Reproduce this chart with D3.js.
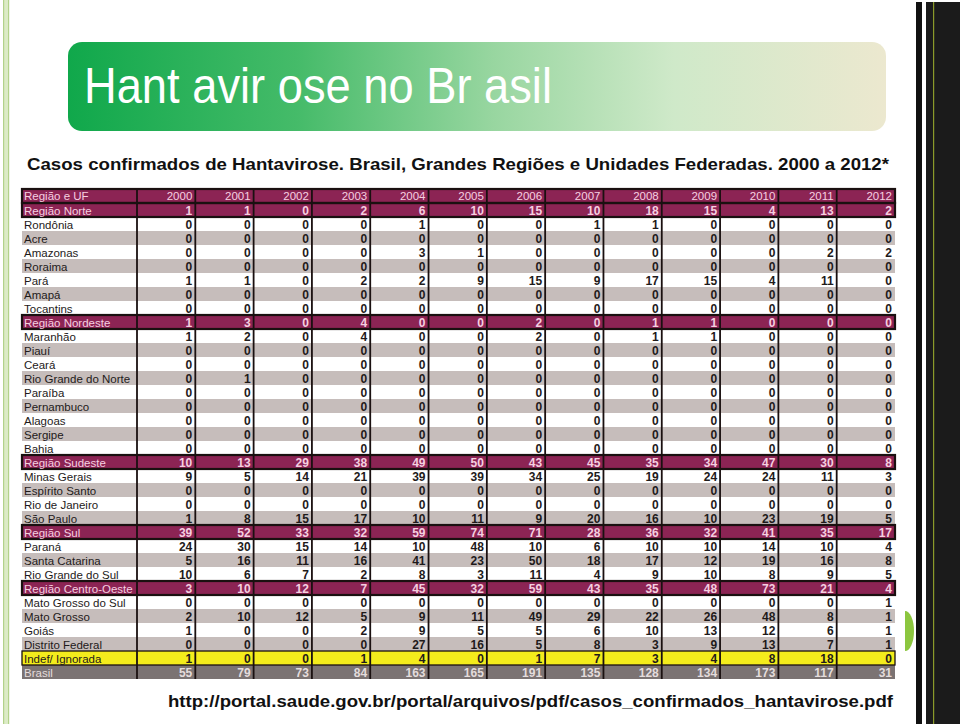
<!DOCTYPE html>
<html>
<head>
<meta charset="utf-8">
<script src="https://cdn.jsdelivr.net/npm/d3@7"></script>
<style>
  html, body { margin: 0; padding: 0; background: #ffffff; }
  svg { display: block; }
</style>
</head>
<body>
<svg id="chart" width="960" height="724"></svg>
<script>
// ---------- DATA ----------
const titleText = "Hant avir ose no Br asil";
const subtitleText = "Casos confirmados de Hantavirose. Brasil, Grandes Regiões e Unidades Federadas. 2000 a 2012*";
const sourceText = "http://portal.saude.gov.br/portal/arquivos/pdf/casos_confirmados_hantavirose.pdf";
const headerLabel = "Região e UF";
const years = ["2000","2001","2002","2003","2004","2005","2006","2007","2008","2009","2010","2011","2012"];

const rowLabels = [
  "Região Norte","Rondônia","Acre","Amazonas","Roraima","Pará","Amapá","Tocantins",
  "Região Nordeste","Maranhão","Piauí","Ceará","Rio Grande do Norte","Paraíba","Pernambuco","Alagoas","Sergipe","Bahia",
  "Região Sudeste","Minas Gerais","Espírito Santo","Rio de Janeiro","São Paulo",
  "Região Sul","Paraná","Santa Catarina","Rio Grande do Sul",
  "Região Centro-Oeste","Mato Grosso do Sul","Mato Grosso","Goiás","Distrito Federal",
  "Indef/ Ignorada","Brasil"
];
// row kind: r = region, s = state, i = ignored, t = total
const rowKinds = [
  "r","s","s","s","s","s","s","s",
  "r","s","s","s","s","s","s","s","s","s",
  "r","s","s","s","s",
  "r","s","s","s",
  "r","s","s","s","s",
  "i","t"
];
const caseCounts = [
  [1,1,0,2,6,10,15,10,18,15,4,13,2],
  [0,0,0,0,1,0,0,1,1,0,0,0,0],
  [0,0,0,0,0,0,0,0,0,0,0,0,0],
  [0,0,0,0,3,1,0,0,0,0,0,2,2],
  [0,0,0,0,0,0,0,0,0,0,0,0,0],
  [1,1,0,2,2,9,15,9,17,15,4,11,0],
  [0,0,0,0,0,0,0,0,0,0,0,0,0],
  [0,0,0,0,0,0,0,0,0,0,0,0,0],
  [1,3,0,4,0,0,2,0,1,1,0,0,0],
  [1,2,0,4,0,0,2,0,1,1,0,0,0],
  [0,0,0,0,0,0,0,0,0,0,0,0,0],
  [0,0,0,0,0,0,0,0,0,0,0,0,0],
  [0,1,0,0,0,0,0,0,0,0,0,0,0],
  [0,0,0,0,0,0,0,0,0,0,0,0,0],
  [0,0,0,0,0,0,0,0,0,0,0,0,0],
  [0,0,0,0,0,0,0,0,0,0,0,0,0],
  [0,0,0,0,0,0,0,0,0,0,0,0,0],
  [0,0,0,0,0,0,0,0,0,0,0,0,0],
  [10,13,29,38,49,50,43,45,35,34,47,30,8],
  [9,5,14,21,39,39,34,25,19,24,24,11,3],
  [0,0,0,0,0,0,0,0,0,0,0,0,0],
  [0,0,0,0,0,0,0,0,0,0,0,0,0],
  [1,8,15,17,10,11,9,20,16,10,23,19,5],
  [39,52,33,32,59,74,71,28,36,32,41,35,17],
  [24,30,15,14,10,48,10,6,10,10,14,10,4],
  [5,16,11,16,41,23,50,18,17,12,19,16,8],
  [10,6,7,2,8,3,11,4,9,10,8,9,5],
  [3,10,12,7,45,32,59,43,35,48,73,21,4],
  [0,0,0,0,0,0,0,0,0,0,0,0,1],
  [2,10,12,5,9,11,49,29,22,26,48,8,1],
  [1,0,0,2,9,5,5,6,10,13,12,6,1],
  [0,0,0,0,27,16,5,8,3,9,13,7,1],
  [1,0,0,1,4,0,1,7,3,4,8,18,0],
  [55,79,73,84,163,165,191,135,128,134,173,117,31]
];

// ---------- DRAW ----------
const svg = d3.select("#chart");
const W = 960, H = 724;

// decorations: left border strip
svg.append("rect").attr("x", 3).attr("y", 0).attr("width", 6).attr("height", H).attr("fill", "#dcebc6");
svg.append("rect").attr("x", 3).attr("y", 0).attr("width", 1.2).attr("height", H).attr("fill", "#b2d28a");
svg.append("rect").attr("x", 8).attr("y", 0).attr("width", 1.2).attr("height", H).attr("fill", "#b2d28a");

// right dark panel
svg.append("rect").attr("x", 916).attr("y", 2).attr("width", 6).attr("height", H - 2).attr("fill", "#111");
svg.append("rect").attr("x", 926).attr("y", 2).attr("width", 34).attr("height", H - 2).attr("fill", "#1b1b1b");
svg.append("rect").attr("x", 933).attr("y", 2).attr("width", 1.2).attr("height", H - 2).attr("fill", "#8a9a2a");
// green half circle
svg.append("path")
  .attr("d", d3.arc()({innerRadius: 0, outerRadius: 20, startAngle: 0, endAngle: Math.PI}))
  .attr("transform", "translate(905,631) scale(0.45,1)")
  .attr("fill", "#8cc63f");

// title banner
const defs = svg.append("defs");
const grad = defs.append("linearGradient").attr("id", "bannerGrad").attr("x1", "0%").attr("x2", "100%");
[["0%", "#10a84b"], ["28%", "#45bb69"], ["52%", "#98d6a0"], ["74%", "#cfe9c9"], ["100%", "#ece8cf"]]
  .forEach(([o, c]) => grad.append("stop").attr("offset", o).attr("stop-color", c));
svg.append("rect").attr("x", 68).attr("y", 42).attr("width", 818).attr("height", 89)
  .attr("rx", 14).attr("fill", "url(#bannerGrad)");
svg.append("text").attr("x", 84).attr("y", 103)
  .attr("font-family", "'Liberation Sans Narrow','Arial Narrow','Liberation Sans',sans-serif")
  .attr("font-size", 50).attr("fill", "#ffffff")
  .attr("textLength", 468).attr("lengthAdjust", "spacingAndGlyphs")
  .text(titleText);

// subtitle
svg.append("text").attr("x", 27).attr("y", 170)
  .attr("font-family", "'Liberation Sans Narrow','Arial Narrow','Liberation Sans',sans-serif")
  .attr("font-weight", "bold").attr("font-size", 17).attr("fill", "#111")
  .attr("textLength", 862).attr("lengthAdjust", "spacingAndGlyphs")
  .text(subtitleText);

// table scales
const allRows = ["__header"].concat(rowLabels);
const y = d3.scaleBand().domain(allRows).range([189, 679]).padding(0);
const x = d3.scaleBand().domain(years).range([137, 895]).padding(0);
const tableLeft = 22, tableRight = 895;
const rh = y.bandwidth();

const fillFor = (kind) => {
  if (kind === "r") return "#8c2454";
  if (kind === "i") return "#f4ec1c";
  if (kind === "t") return "#7b7373";
  return null;
};

// stripe colours: within each group, first state white, then alternate
let stripeIdx = 0;
const rowFill = rowKinds.map((k) => {
  if (k !== "s") { stripeIdx = 0; return fillFor(k); }
  const c = (stripeIdx % 2 === 0) ? "#ffffff" : "#c6bdbb";
  stripeIdx++;
  return c;
});

const rowsG = svg.append("g");
rowsG.append("rect").attr("x", tableLeft).attr("y", y("__header")).attr("width", tableRight - tableLeft)
  .attr("height", rh).attr("fill", "#8c2454");
rowLabels.forEach((lab, i) => {
  rowsG.append("rect").attr("x", tableLeft).attr("y", y(lab)).attr("width", tableRight - tableLeft)
    .attr("height", rh).attr("fill", rowFill[i]);
});

// vertical column lines
const colEdges = [x.range()[0]].concat(years.map(yr => x(yr) + x.bandwidth()).slice(0, -1));
svg.append("g").selectAll("line").data(colEdges).join("line")
  .attr("x1", d => d).attr("x2", d => d)
  .attr("y1", 189).attr("y2", 679)
  .attr("stroke", "#1a1010").attr("stroke-width", 1.8);

// header frame
svg.append("rect").attr("x", tableLeft).attr("y", y("__header")).attr("width", tableRight - tableLeft)
  .attr("height", rh).attr("fill", "none").attr("stroke", "#1a1010").attr("stroke-width", 2.2);

// region / ignored frames
rowLabels.forEach((lab, i) => {
  const k = rowKinds[i];
  if (k === "r" || k === "i") {
    svg.append("rect").attr("x", tableLeft).attr("y", y(lab)).attr("width", tableRight - tableLeft)
      .attr("height", rh).attr("fill", "none").attr("stroke", "#1a1010").attr("stroke-width", k === "r" ? 2.2 : 1.3);
  }
});

const fontFam = "'Liberation Sans',Arial,sans-serif";
const textColor = (k) => k === "r" ? "#f6cfe0" : (k === "t" ? "#e4dcdc" : "#1e1a1a");

// header text
const hdr = svg.append("g").attr("font-family", fontFam).attr("font-size", 11.5).attr("fill", "#f6cfe0");
hdr.append("text").attr("x", tableLeft + 2).attr("y", y("__header") + rh / 2 + 4).text(headerLabel);
hdr.selectAll("text.yr").data(years).join("text").attr("class", "yr")
  .attr("x", d => x(d) + x.bandwidth() - 3).attr("y", y("__header") + rh / 2 + 4)
  .attr("text-anchor", "end").text(d => d);

// row labels and values
const body = svg.append("g").attr("font-family", fontFam);
rowLabels.forEach((lab, i) => {
  const k = rowKinds[i];
  const cy = y(lab) + rh / 2 + 4.5;
  body.append("text").attr("x", tableLeft + 2).attr("y", cy)
    .attr("font-size", 11.5).attr("fill", textColor(k)).text(lab);
  body.append("g").selectAll("text").data(caseCounts[i]).join("text")
    .attr("x", (d, j) => x(years[j]) + x.bandwidth() - 3)
    .attr("y", cy).attr("text-anchor", "end")
    .attr("font-size", 12).attr("font-weight", "bold")
    .attr("fill", textColor(k)).text(d => d);
});

// source url
svg.append("text").attr("x", 168).attr("y", 707)
  .attr("font-family", fontFam).attr("font-weight", "bold").attr("font-size", 17).attr("fill", "#111")
  .attr("textLength", 725).attr("lengthAdjust", "spacingAndGlyphs")
  .text(sourceText);
</script>
</body>
</html>
